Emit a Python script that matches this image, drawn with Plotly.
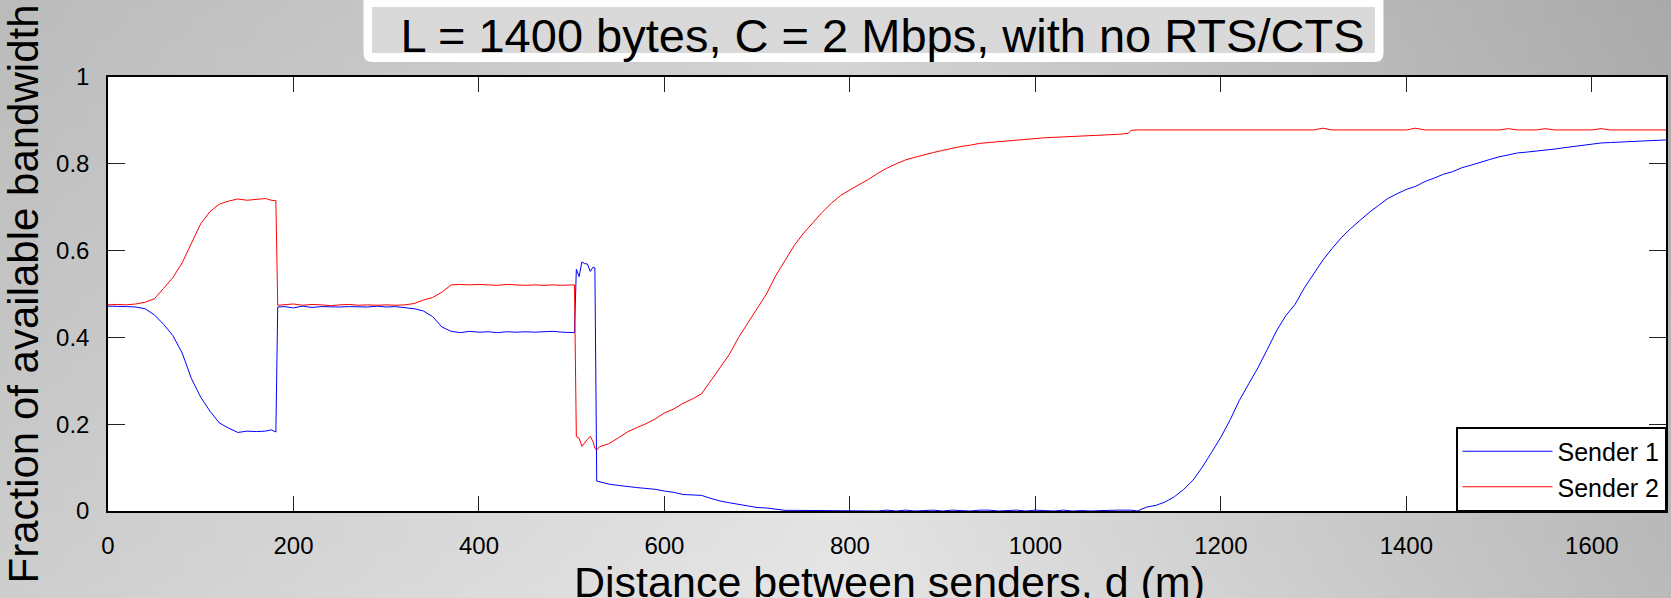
import base64
import plotly.graph_objects as go

# ---------------- data ----------------
distance = sorted(list(range(0, 180, 10)) + [176, 181]
                  + [183] + list(range(190, 510, 10)) + [503]
                  + [505, 508, 511, 514, 517, 520, 523, 525, 527, 530]
                  + list(range(540, 1110, 10)) + [1103]
                  + list(range(1110, 1690, 10)))

sender1 = ([.472, .472, .471, .470, .466, .452, .430, .404, .364, .305, .262, .230, .203, .191, .181, .184, .183, .184, .187, .182]
           + [.470, .471, .468, .472, .469, .471, .470, .470, .471, .470, .470, .472, .470, .471, .469, .466, .461, .448, .424, .414,
              .411, .414, .412, .413, .411, .413, .412, .413, .412, .413, .414, .412, .411, .411]
           + [.557, .540, .574, .570, .569, .552, .562, .560, .069, .067]
           + [.062, .059, .056, .054, .052, .050, .046, .043, .038, .037, .036, .029, .023, .019, .015, .011, .008, .007, .004, .0015,
              .0015, .0015, .0015, .0015, .0015, .0015, .0015, .0015, .0015, .000, .002, .000, .002, .000, .001, .002, .000, .002, .001, .000,
              .002, .002, .000, .001, .002, .000, .002, .001, .000, .002, .000, .001, .000, .001, .002, .002, .002, .002]
           + [.000, .009, .013, .021, .033, .050, .071, .101, .135, .170, .210, .255, .293, .330, .372, .415, .450, .476, .514, .547,
              .578, .605, .630, .651, .670, .688, .704, .720, .731, .741, .748, .759, .767, .776, .782, .791, .797, .804, .810, .816,
              .820, .825, .827, .829, .831, .834, .837, .840, .842, .846, .848, .849, .850, .851, .853, .854, .855, .855])

sender2 = ([.475, .476, .475, .477, .481, .489, .513, .538, .572, .617, .662, .690, .707, .714, .719, .716, .718, .720, .716, .715]
           + [.474, .475, .477, .474, .476, .475, .473, .475, .476, .474, .475, .474, .475, .474, .475, .478, .486, .492, .504, .521,
              .522, .521, .522, .521, .520, .522, .521, .520, .521, .520, .521, .520, .521, .521]
           + [.171, .168, .149, .158, .165, .172, .160, .145, .140, .148]
           + [.155, .168, .182, .192, .201, .212, .226, .235, .248, .258, .270, .300, .330, .361, .400, .433, .468, .500, .542, .576,
              .612, .640, .665, .688, .709, .727, .740, .752, .764, .778, .790, .800, .809, .815, .821, .826, .831, .836, .840, .843,
              .847, .849, .851, .853, .855, .857, .858, .860, .861, .862, .863, .864, .864, .865, .866, .868, .870, .877]
           + [.878, .878, .878, .878, .878, .878, .878, .878, .878, .878, .878, .878, .878, .878, .878, .878, .878, .878, .878, .878,
              .882, .878, .878, .878, .878, .878, .878, .878, .878, .878, .882, .878, .878, .878, .878, .878, .878, .878, .878, .878,
              .881, .878, .878, .878, .881, .878, .878, .878, .878, .878, .881, .878, .878, .878, .878, .878, .878, .878])

series_names = ["Sender 1", "Sender 2"]
x_ticks = [0, 200, 400, 600, 800, 1000, 1200, 1400, 1600]
y_ticks = [0, 0.2, 0.4, 0.6, 0.8, 1]
y_tick_text = ["0", "0.2", "0.4", "0.6", "0.8", "1"]

title_text = "L = 1400 bytes, C = 2 Mbps, with no RTS/CTS"
x_title = "Distance between senders, d (m)"
y_title = "Fraction of available bandwidth"

# ---------------- figure ----------------
W, H = 1671, 598
ML, MR, MT, MB = 108, 5, 77, 87
PW, PH = W - ML - MR, H - MT - MB
FONT = "Liberation Sans, Arial, sans-serif"


def px_to_paper(X, Y):
    return (X - ML) / PW, (H - MB - Y) / PH


fig = go.Figure()
fig.add_trace(go.Scatter(x=distance, y=sender1, mode="lines", name=series_names[0],
                         line=dict(color="#0000ff", width=1)))
fig.add_trace(go.Scatter(x=distance, y=sender2, mode="lines", name=series_names[1],
                         line=dict(color="#ff0000", width=1)))

# background gradient (decoration), with the white plot area
svg = f"""<svg xmlns='http://www.w3.org/2000/svg' width='{W}' height='{H}' viewBox='0 0 {W} {H}' preserveAspectRatio='none'>
<defs>
<linearGradient id='h' x1='0' y1='0' x2='1' y2='0'>
<stop offset='0' stop-color='#cdcdcd'/>
<stop offset='0.5' stop-color='#e6e6e6'/>
<stop offset='1' stop-color='#bababa'/>
</linearGradient>
<linearGradient id='v' x1='0' y1='0' x2='0' y2='1'>
<stop offset='0' stop-color='#000' stop-opacity='0.09'/>
<stop offset='1' stop-color='#000' stop-opacity='0'/>
</linearGradient>
</defs>
<rect width='{W}' height='{H}' fill='url(#h)'/>
<rect width='{W}' height='{H}' fill='url(#v)'/>
<rect x='{ML}' y='{MT}' width='{PW}' height='{PH}' fill='#ffffff'/>
</svg>"""
svg_uri = "data:image/svg+xml;base64," + base64.b64encode(svg.encode()).decode()
x0p, y0p = px_to_paper(0, 0)


def rounded_path(X1, Y1, X2, Y2, r):
    def p(X, Y):
        a, b = px_to_paper(X, Y)
        return f"{a:.5f},{b:.5f}"
    return (f"M{p(X1 + r, Y1)} L{p(X2 - r, Y1)} Q{p(X2, Y1)} {p(X2, Y1 + r)} "
            f"L{p(X2, Y2 - r)} Q{p(X2, Y2)} {p(X2 - r, Y2)} L{p(X1 + r, Y2)} "
            f"Q{p(X1, Y2)} {p(X1, Y2 - r)} L{p(X1, Y1 + r)} Q{p(X1, Y1)} {p(X1 + r, Y1)} Z")


gx0, gy0 = px_to_paper(372, 7)
gx1, gy1 = px_to_paper(1375, 53)

shapes = [
    dict(type="path", xref="paper", yref="paper", path=rounded_path(363.5, -12, 1383.5, 62, 9),
         fillcolor="white", line=dict(width=0)),
    dict(type="rect", xref="paper", yref="paper", x0=gx0, x1=gx1, y0=gy1, y1=gy0,
         fillcolor="#d9d9d9", line=dict(width=0)),
]

axis_common = dict(
    showgrid=False, zeroline=False, showline=True, linecolor="black", linewidth=1.5,
    mirror="ticks", ticks="inside", tickcolor="#222222", tickwidth=1.2, automargin=False,
    tickfont=dict(family=FONT, size=24, color="black"),
)

# x-axis title placed as a paper annotation just below the tick labels
xt_x, xt_y = px_to_paper(889, 557)

fig.update_layout(
    width=W, height=H, autosize=False,
    margin=dict(l=ML, r=MR, t=MT, b=MB, pad=0),
    paper_bgcolor="#cccccc", plot_bgcolor="white",
    font=dict(family=FONT, color="black"),
    title=dict(text=title_text, font=dict(family=FONT, size=47, color="black"),
               x=882.5 / W, xanchor="center", y=1 - 35.5 / H, yanchor="middle",
               xref="container", yref="container"),
    xaxis=dict(range=[0, 1680], tickvals=x_ticks, ticklen=15, ticklabelstandoff=12,
               **axis_common),
    yaxis=dict(range=[0, 1], tickvals=y_ticks, ticktext=y_tick_text, ticklen=17, ticklabelstandoff=12,
               title=dict(text=y_title, font=dict(family=FONT, size=42, color="black"), standoff=6),
               **axis_common),
    annotations=[dict(text=x_title, xref="paper", yref="paper", x=xt_x, y=xt_y,
                      xanchor="center", yanchor="top", showarrow=False, borderpad=0,
                      font=dict(family=FONT, size=43, color="black"))],
    legend=dict(x=1, xanchor="right", y=0, yanchor="bottom", bgcolor="white",
                bordercolor="black", borderwidth=1.5, itemwidth=90,
                font=dict(family=FONT, size=25, color="black")),
    showlegend=True,
    shapes=shapes,
    images=[dict(source=svg_uri, xref="paper", yref="paper", x=x0p, y=y0p,
                 sizex=W / PW, sizey=H / PH, xanchor="left", yanchor="top",
                 sizing="stretch", layer="below")],
)

fig.write_html("out.html")
